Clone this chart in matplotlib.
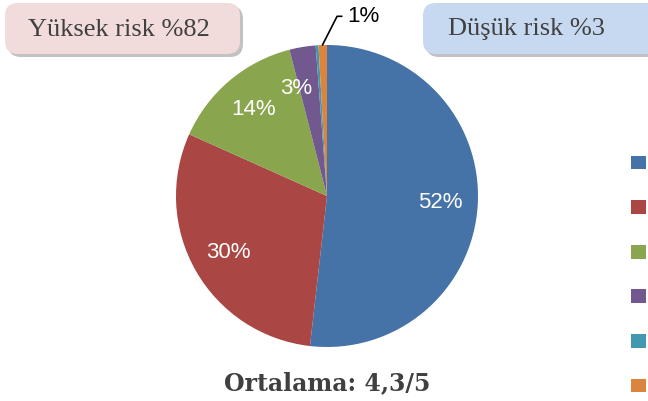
import matplotlib
matplotlib.use("Agg")
import numpy as np
import matplotlib.pyplot as plt
from matplotlib.patches import FancyBboxPatch

# data
labels = ["5", "4", "3", "2", "1", "Cevapsız"]
values = [51.8, 29.9, 14.3, 2.8, 0.3, 0.9]
colors = ["#4572A7", "#AA4643", "#89A54E", "#71588F", "#4198AF", "#DB843D"]
high_text = "Yüksek risk %82"
low_text = "Düşük risk %3"
avg_text = "Ortalama: 4,3/5"

W, H = 648, 401
fig = plt.figure(figsize=(W / 100, H / 100), dpi=100)

# pie axes: centre (327,196) px, radius 151 px
cx, cy, r = 327, 196, 151
ax = fig.add_axes([(cx - r) / W, (H - cy - r) / H, 2 * r / W, 2 * r / H])


def pct(p):
    return "%d%%" % round(p) if p >= 2 else ""


wedges, texts, autotexts = ax.pie(values, colors=colors, startangle=90, counterclock=False,
                                  autopct=pct, pctdistance=0.75,
                                  wedgeprops=dict(linewidth=0),
                                  textprops=dict(color="white", fontsize=16, family="Liberation Sans"))
ax.set_xlim(-1, 1)
ax.set_ylim(-1, 1)
ax.set_aspect("equal")

# the thin purple slice label sits at the slice's leading edge, as in the reference
th = np.deg2rad(wedges[3].theta2 + 1.5)
autotexts[3].set_position((0.74 * np.cos(th), 0.74 * np.sin(th)))

# 1% label for the small orange slice, with leader line
ax.annotate("%d%%" % round(values[5]), xy=(-0.03, 1.0), xytext=(0.135, 1.19),
            fontsize=16, family="Liberation Sans", color="black", va="center", ha="left",
            arrowprops=dict(arrowstyle="-", color="black", lw=1.2,
                            connectionstyle="angle,angleA=0,angleB=63,rad=0",
                            shrinkA=2, shrinkB=0),
            annotation_clip=False)


def box(x0, y0, x1, y1, color, text, tx):
    # pixel coords from top-left
    bx, by = x0 / W, 1 - y1 / H
    bw, bh = (x1 - x0) / W, (y1 - y0) / H
    shadow = FancyBboxPatch((bx + 3 / W, by - 3 / H), bw, bh,
                            boxstyle="round,pad=0,rounding_size=0.02",
                            transform=fig.transFigure, facecolor="#9a9a9a",
                            edgecolor="none", alpha=0.6, mutation_aspect=W / H)
    fig.patches.append(shadow)
    p = FancyBboxPatch((bx, by), bw, bh, boxstyle="round,pad=0,rounding_size=0.02",
                       transform=fig.transFigure, facecolor=color, edgecolor="none",
                       mutation_aspect=W / H)
    fig.patches.append(p)
    fig.text(tx / W, 1 - (y0 + y1 + 2) / 2 / H, text, fontsize=19, family="Liberation Serif",
             color="#404040", ha="left", va="center")


box(5, 3, 240, 54, "#F2DCDB", high_text, 28)
box(423, 3, 660, 54, "#C6D9F1", low_text, 448)

fig.text(cx / W, 1 - 383 / H, avg_text, fontsize=17, family="DejaVu Serif",
         fontweight="bold", color="#404040", ha="center", va="center")

leg = fig.legend(wedges, labels, loc="upper left", bbox_to_anchor=(617 / W, 1 - 142 / H),
                 frameon=False, fontsize=11, handlelength=1.0, handleheight=1.0,
                 labelspacing=1.93, handletextpad=0.8, borderpad=0.4)

fig.savefig("out.png", dpi=100)
